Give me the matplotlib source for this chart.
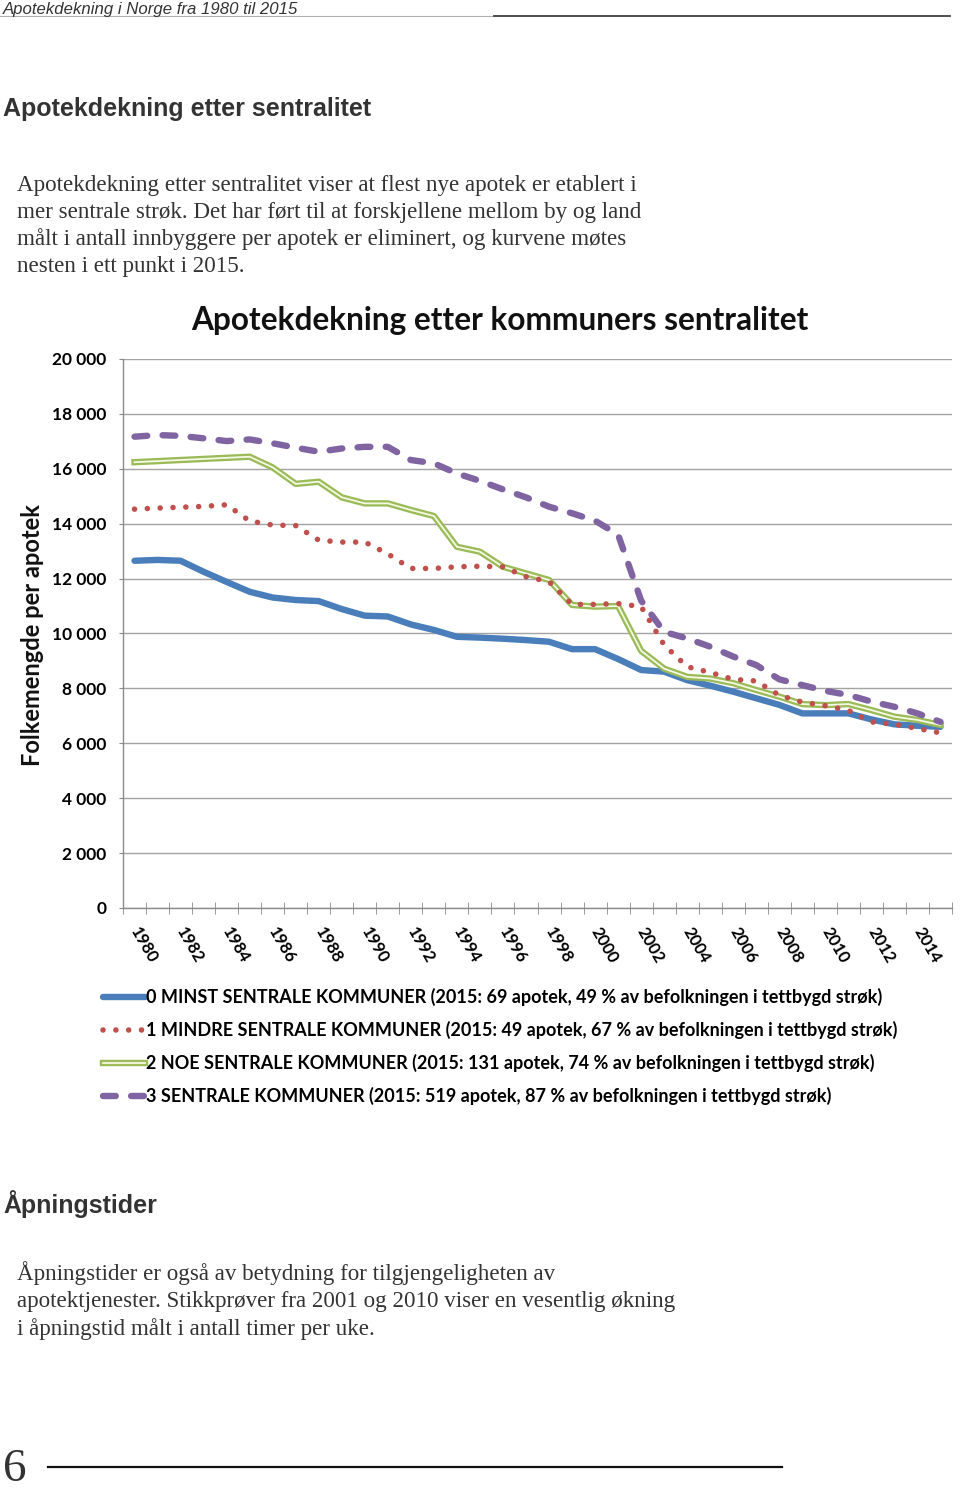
import matplotlib
matplotlib.use("Agg")
import matplotlib.pyplot as plt
import matplotlib.patheffects as pe
from matplotlib.lines import Line2D
from matplotlib.ticker import FuncFormatter
from matplotlib import font_manager as fm
import numpy as np

# ---------------- data ----------------
years = list(range(1980, 2016))

minst_sentrale = [12650, 12680, 12650, 12250, 11880, 11520, 11310, 11220, 11180, 10890,
                  10650, 10620, 10330, 10130, 9880, 9850, 9810, 9760, 9700, 9430,
                  9430, 9070, 8670, 8610, 8300, 8100, 7880, 7640, 7400, 7090,
                  7090, 7090, 6870, 6690, 6640, 6600]
mindre_sentrale = [14530, 14570, 14600, 14630, 14690, 14100, 13950, 13930, 13400, 13330,
                   13330, 12900, 12370, 12370, 12430, 12450, 12430, 12070, 11890, 11060,
                   11060, 11090, 10980, 9580, 8790, 8580, 8330, 8270, 7750, 7500,
                   7370, 7200, 6780, 6690, 6540, 6380]
noe_sentrale = [16240, 16280, 16320, 16360, 16400, 16440, 16050, 15450, 15530, 14960,
                14740, 14740, 14500, 14280, 13160, 12980, 12430, 12190, 11950, 11040,
                10980, 11000, 9370, 8720, 8420, 8360, 8190, 7940, 7700, 7430,
                7390, 7430, 7210, 6970, 6850, 6670]
sentrale = [17170, 17230, 17200, 17110, 17010, 17070, 16930, 16770, 16620, 16740,
            16800, 16800, 16320, 16200, 15830, 15560, 15250, 14960, 14620, 14380,
            14110, 13600, 11200, 10060, 9820, 9520, 9160, 8850, 8330, 8120,
            7910, 7760, 7520, 7330, 7090, 6780]

series_labels = [
    "0 MINST SENTRALE KOMMUNER (2015: 69 apotek, 49 % av befolkningen i tettbygd strøk)",
    "1 MINDRE SENTRALE KOMMUNER (2015: 49 apotek, 67 % av befolkningen i tettbygd strøk)",
    "2 NOE SENTRALE KOMMUNER (2015: 131 apotek, 74 % av befolkningen i tettbygd strøk)",
    "3 SENTRALE KOMMUNER (2015: 519 apotek, 87 % av befolkningen i tettbygd strøk)",
]
y_ticks = list(range(0, 20001, 2000))

chart_title = "Apotekdekning etter kommuners sentralitet"
y_label = "Folkemengde per apotek"
header_text = "Apotekdekning i Norge fra 1980 til 2015"
section1 = "Apotekdekning etter sentralitet"
para1 = ["Apotekdekning etter sentralitet viser at flest nye apotek er etablert i",
         "mer sentrale strøk. Det har ført til at forskjellene mellom by og land",
         "målt i antall innbyggere per apotek er eliminert, og kurvene møtes",
         "nesten i ett punkt i 2015."]
section2 = "Åpningstider"
para2 = ["Åpningstider er også av betydning for tilgjengeligheten av",
         "apotektjenester. Stikkprøver fra 2001 og 2010 viser en vesentlig økning",
         "i åpningstid målt i antall timer per uke."]
page_no = "6"

# ---------------- fonts ----------------
names = {f.name for f in fm.fontManager.ttflist}
NARROW = "Liberation Sans Narrow" if "Liberation Sans Narrow" in names else "Liberation Sans"
SERIF = "Liberation Serif"
CHART = ["Lato", "DejaVu Sans"]

W, H = 960, 1492
def fx(px):
    return px / W
def fy(py):
    return 1 - py / H

fig = plt.figure(figsize=(W / 100, H / 100), dpi=100)
fig.patch.set_facecolor("white")

# ---------------- page text ----------------
fig.text(fx(3), fy(14), header_text, family=NARROW, style="italic", fontsize=12.1,
         color="#333333", va="baseline", ha="left")
fig.add_artist(Line2D([fx(0), fx(494)], [fy(16), fy(16)], color="#b0b0b0", lw=0.8))
fig.add_artist(Line2D([fx(494), fx(950)], [fy(16), fy(16)], color="#404040", lw=1.3))

fig.text(fx(3), fy(116), section1, family=NARROW, weight="bold", fontsize=18,
         color="#333333", va="baseline", ha="left")
for i, line in enumerate(para1):
    fig.text(fx(17), fy(191 + 27 * i), line, family=SERIF, fontsize=16.6,
             color="#333333", va="baseline", ha="left")

fig.text(fx(3), fy(1213), section2, family=NARROW, weight="bold", fontsize=18,
         color="#333333", va="baseline", ha="left")
for i, line in enumerate(para2):
    fig.text(fx(17), fy(1280 + 27.5 * i), line, family=SERIF, fontsize=16.6,
             color="#333333", va="baseline", ha="left")

fig.text(fx(3), fy(1491), page_no, family=SERIF, fontsize=34, color="#333333",
         va="bottom", ha="left")
fig.add_artist(Line2D([fx(48), fx(782)], [fy(1467), fy(1467)], color="#111111", lw=1.6))

# ---------------- chart ----------------
ax = fig.add_axes([fx(123), fy(908), (952 - 123) / W, (908 - 359) / H])
x = np.arange(len(years))

l0, = ax.plot(x, minst_sentrale, color="#4a7ebb", lw=4.6, solid_capstyle="round",
              solid_joinstyle="round", zorder=2, label=series_labels[0])
l1, = ax.plot(x, mindre_sentrale, color="#c0504d", lw=4.0, linestyle=(0, (0.01, 2.3)),
              dash_capstyle="round", zorder=4, label=series_labels[1])
l2, = ax.plot(x, noe_sentrale, color="#f6f9e4", lw=1.3, solid_joinstyle="round",
              zorder=3, label=series_labels[2],
              path_effects=[pe.Stroke(linewidth=4.6, foreground="#9bbb59"), pe.Normal()])
l3, = ax.plot(x, sentrale, color="#8064a2", lw=4.6, linestyle=(0, (2.0, 2.4)),
              dash_capstyle="round", zorder=5, label=series_labels[3])

ax.set_xlim(-0.5, len(years) - 0.5)
ax.set_ylim(0, 20000)
ax.set_yticks(y_ticks)
ax.yaxis.set_major_formatter(FuncFormatter(lambda v, p: f"{int(v):,}".replace(",", " ")))
ax.grid(axis="y", color="#a3a3a3", lw=1.0)
ax.set_axisbelow(True)
for s in ("top", "right"):
    ax.spines[s].set_visible(False)
for s in ("left", "bottom"):
    ax.spines[s].set_color("#8a8a8a")
    ax.spines[s].set_linewidth(1.0)

even = [i for i, yv in enumerate(years) if yv % 2 == 0]
ax.set_xticks(even)
ax.set_xticklabels([str(years[i]) for i in even])
ax.set_xticks(np.arange(-0.5, len(years), 1.0), minor=True)
ax.tick_params(axis="x", which="major", length=0, pad=15)
ax.tick_params(axis="x", which="minor", length=8, direction="inout", color="#8a8a8a")
ax.tick_params(axis="y", length=3, color="#8a8a8a", pad=9)
for lab in ax.get_xticklabels():
    lab.set_rotation(-60)
    lab.set_ha("left")
    lab.set_va("center")
    lab.set_rotation_mode("anchor")
    lab.set_family(CHART)
    lab.set_weight("bold")
    lab.set_fontsize(12)
for lab in ax.get_yticklabels():
    lab.set_family(CHART)
    lab.set_weight("bold")
    lab.set_fontsize(12.5)

fig.text(fx(500), fy(330), chart_title, family=CHART, weight="bold", fontsize=22.8,
         color="#111111", ha="center", va="baseline")
fig.text(fx(33), fy(635), y_label, family=CHART, weight="bold", fontsize=17,
         color="#111111", ha="center", va="center", rotation=90)

leg = ax.legend(handles=[l0, l1, l2, l3], loc="upper left",
                bbox_to_anchor=(fx(103), fy(988)), bbox_transform=fig.transFigure,
                frameon=False, borderpad=0, borderaxespad=0, handlelength=2.3,
                handletextpad=0.08, labelspacing=0.82,
                prop={"family": CHART, "weight": "bold", "size": 13})

fig.savefig("out.png", dpi=100)
